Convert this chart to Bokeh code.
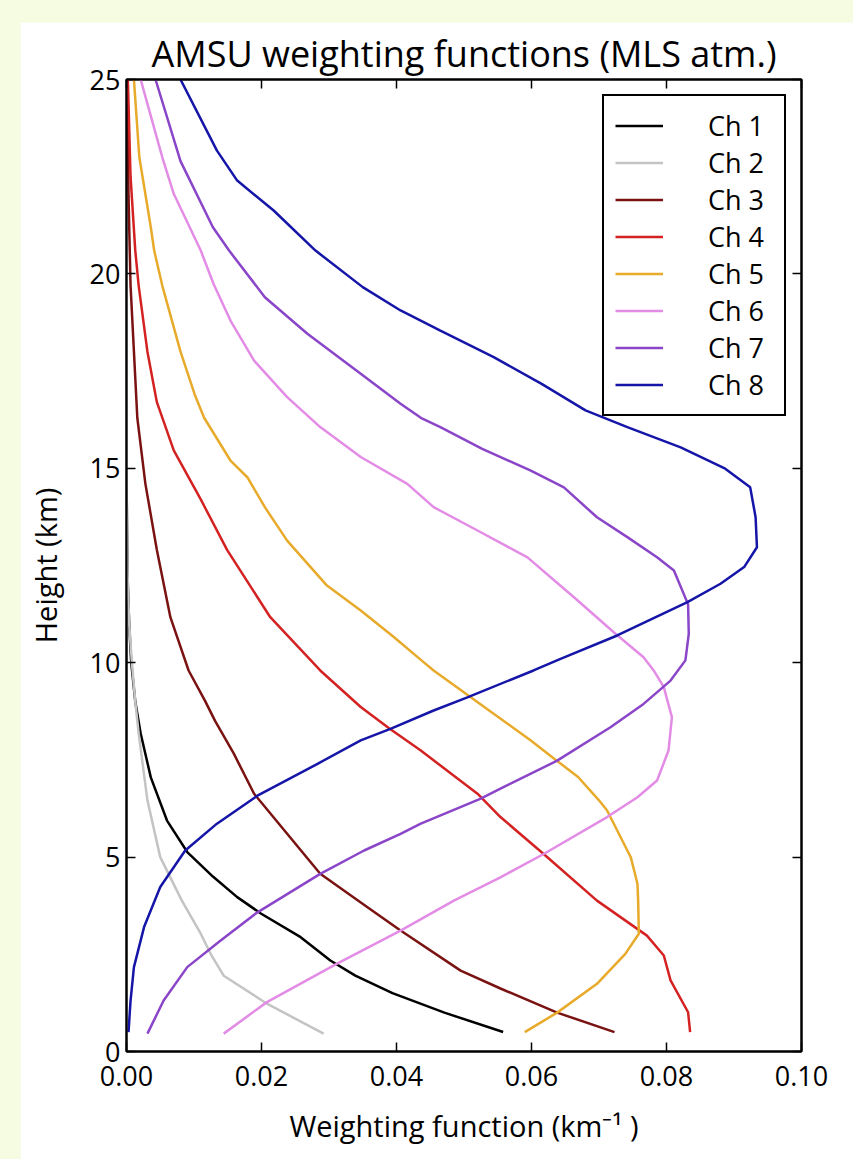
from bokeh.plotting import figure
from bokeh.models import (LinearAxis, FixedTicker, PrintfTickFormatter, Spacer,
                          Legend, LegendItem, Range1d)
from bokeh.layouts import column, row
from bokeh.embed import file_html
from bokeh.resources import INLINE

# ---------------- data ----------------
# Each channel: heights (km) and weighting-function values (1/km)
h1 = [0.5, 1.0, 1.5, 1.95, 2.34, 2.94, 3.55, 3.97, 4.5, 5.13, 5.94, 7.05, 8.18,
      9.0, 10.0, 11.0, 12.0, 13.0, 15.0, 25.0]
w1 = [0.0558, 0.0471, 0.0394, 0.0339, 0.0302, 0.0258, 0.0199, 0.0164, 0.0128,
      0.0090, 0.0060, 0.0036, 0.0021, 0.0013, 0.0007, 0.0004, 0.0002, 0.0001,
      0.0, 0.0]

h2 = [0.46, 1.23, 1.95, 2.5, 3.03, 3.88, 5.0, 6.46, 8.18, 9.0, 10.0, 11.0, 12.0,
      14.0, 25.0]
w2 = [0.0292, 0.0208, 0.0144, 0.0125, 0.0110, 0.0082, 0.0050, 0.0031, 0.0018,
      0.0013, 0.0008, 0.0004, 0.0002, 0.0, 0.0]

h3 = [0.5, 1.0, 1.62, 2.08, 3.11, 3.71, 4.57, 5.6, 6.63, 7.66, 8.51, 9.03, 9.8,
      11.17, 12.9, 14.6, 16.3, 18.0, 19.7, 22.0, 25.0]
w3 = [0.0723, 0.0638, 0.0554, 0.0495, 0.0406, 0.0357, 0.0287, 0.0238, 0.0189,
      0.0159, 0.0131, 0.0116, 0.0092, 0.0065, 0.0045, 0.0028, 0.0016, 0.0011,
      0.0006, 0.0003, 0.0001]

h4 = [0.5, 1.01, 1.83, 2.47, 2.98, 3.88, 5.08, 6.03, 6.63, 7.74, 8.3, 8.86,
      9.8, 11.17, 12.9, 14.2, 15.46, 16.7, 18.0, 19.7, 20.6, 22.5, 25.0]
w4 = [0.0835, 0.0832, 0.0806, 0.0796, 0.0771, 0.0697, 0.0618, 0.0554, 0.0520,
      0.0436, 0.0390, 0.0347, 0.0287, 0.0213, 0.0149, 0.0110, 0.0070, 0.0045,
      0.0031, 0.0018, 0.0013, 0.0006, 0.0002]

h5 = [0.5, 1.0, 1.74, 2.51, 3.03, 3.88, 4.31, 4.66, 5.0, 5.17, 6.2, 6.46, 7.06,
      7.5, 8.0, 9.11, 9.8, 10.06, 10.66, 11.34, 12.0, 13.14, 14.0, 14.77, 15.2,
      16.3, 16.9, 18.0, 19.7, 20.6, 21.2, 23.0, 25.0]
w5 = [0.0590, 0.0638, 0.0697, 0.0739, 0.0759, 0.0758, 0.0757, 0.0752, 0.0747,
      0.0742, 0.0712, 0.0700, 0.0669, 0.0636, 0.0599, 0.0510, 0.0455, 0.0437,
      0.0396, 0.0347, 0.0296, 0.0238, 0.0205, 0.0179, 0.0154, 0.0115, 0.0101,
      0.0080, 0.0053, 0.0041, 0.0036, 0.0019, 0.0011]

h6 = [0.46, 1.27, 2.26, 3.11, 3.88, 4.48, 5.08, 6.03, 6.54, 6.97, 7.74, 8.6,
      9.37, 9.8, 10.14, 10.75, 11.65, 12.71, 13.4, 14.0, 14.6, 15.29, 16.06,
      16.83, 17.77, 18.8, 19.74, 20.6, 22.06, 23.0, 24.0, 25.0]
w6 = [0.0144, 0.0208, 0.0312, 0.0406, 0.0485, 0.0554, 0.0618, 0.0712, 0.0757,
      0.0786, 0.0803, 0.0808, 0.0796, 0.0781, 0.0766, 0.0724, 0.0665, 0.0594,
      0.0520, 0.0455, 0.0416, 0.0347, 0.0287, 0.0238, 0.0189, 0.0154, 0.0129,
      0.0110, 0.0070, 0.0053, 0.0037, 0.0021]

h7 = [0.46, 1.31, 2.17, 2.85, 3.58, 4.57, 5.17, 5.6, 5.86, 6.5, 6.76, 7.48,
      8.34, 8.94, 9.54, 10.06, 10.74, 11.5, 12.37, 12.71, 13.23, 13.74, 14.51,
      14.94, 15.5, 16.06, 16.3, 16.66, 17.43, 18.46, 19.4, 20.6, 21.2, 22.9,
      25.0]
w7 = [0.0031, 0.0055, 0.0090, 0.0139, 0.0194, 0.0287, 0.0352, 0.0406, 0.0436,
      0.0524, 0.0554, 0.0638, 0.0717, 0.0766, 0.0806, 0.0828, 0.0833, 0.0832,
      0.0811, 0.0786, 0.0742, 0.0697, 0.0648, 0.0599, 0.0527, 0.0465, 0.0436,
      0.0406, 0.0347, 0.0268, 0.0205, 0.0152, 0.0128, 0.0080, 0.0043]

h8 = [0.5, 1.31, 2.17, 3.2, 4.23, 5.17, 5.86, 6.58, 7.4, 8.0, 8.3, 8.77, 9.11,
      9.8, 10.1, 10.7, 11.56, 12.03, 12.46, 12.97, 13.74, 14.51, 14.99, 15.54,
      16.06, 16.49, 17.17, 17.86, 18.54, 19.06, 19.66, 20.6, 21.63, 22.4, 23.17,
      25.0]
w8 = [0.0003, 0.0006, 0.0011, 0.0026, 0.0050, 0.0087, 0.0134, 0.0194, 0.0283,
      0.0347, 0.0391, 0.0455, 0.0505, 0.0603, 0.0643, 0.0727, 0.0831, 0.0880,
      0.0915, 0.0934, 0.0932, 0.0924, 0.0887, 0.0821, 0.0742, 0.0680, 0.0615,
      0.0544, 0.0465, 0.0406, 0.0350, 0.0280, 0.0218, 0.0164, 0.0134, 0.0080]

labels = ["Ch 1", "Ch 2", "Ch 3", "Ch 4", "Ch 5", "Ch 6", "Ch 7", "Ch 8"]
colors = ["#000000", "#c4c4c4", "#7a1212", "#d42222", "#e8aa2a", "#e38ce6",
          "#8a45c8", "#1515a8"]
series = [(w1, h1), (w2, h2), (w3, h3), (w4, h4), (w5, h5), (w6, h6),
          (w7, h7), (w8, h8)]

x_ticks = [0.0, 0.02, 0.04, 0.06, 0.08, 0.10]
y_ticks = [0, 5, 10, 15, 20, 25]

title_text = "AMSU weighting functions (MLS atm.)"
x_label = "Weighting function (km\u207b\u00b9 )"
y_label = "Height (km)"

# ---------------- styling ----------------
FONT = "Open Sans"
BG = "#f6fce2"

p = figure(width=833, height=1137, output_backend="svg", toolbar_location=None,
           x_range=Range1d(0, 0.10), y_range=Range1d(0, 25),
           min_border_left=106, min_border_right=52, min_border_top=57,
           min_border_bottom=108, title=title_text)
p.background_fill_color = "white"
p.border_fill_color = "white"
p.outline_line_color = "black"
p.outline_line_width = 2
p.grid.visible = False

p.title.text_font = FONT
p.title.text_font_size = "36px"
p.title.text_font_style = "normal"
p.title.align = "center"
p.title.text_color = "black"
p.title.standoff = 3

def style_axis(ax, show_labels):
    ax.axis_line_color = "black"
    ax.axis_line_width = 2
    ax.major_tick_in = 9
    ax.major_tick_out = 0
    ax.major_tick_line_width = 1.5
    ax.major_tick_line_color = "black"
    ax.minor_tick_line_color = None
    ax.major_label_text_font = FONT
    ax.major_label_text_font_size = "27px"
    ax.major_label_text_color = "black"
    ax.axis_label_text_font = FONT
    ax.axis_label_text_font_size = "29px"
    ax.axis_label_text_font_style = "normal"
    ax.axis_label_text_color = "black"
    if not show_labels:
        ax.major_label_text_font_size = "0px"
        ax.major_label_text_alpha = 0
        ax.major_label_standoff = 0
        ax.axis_label_standoff = 0

xaxis = p.xaxis[0]
yaxis = p.yaxis[0]
xaxis.ticker = FixedTicker(ticks=x_ticks)
xaxis.formatter = PrintfTickFormatter(format="%.2f")
yaxis.ticker = FixedTicker(ticks=y_ticks)
style_axis(xaxis, True)
style_axis(yaxis, True)
xaxis.axis_label = x_label
yaxis.axis_label = y_label
xaxis.major_label_standoff = 14
yaxis.major_label_standoff = 6
xaxis.axis_label_standoff = 17
yaxis.axis_label_standoff = 22

top_axis = LinearAxis(ticker=FixedTicker(ticks=x_ticks))
right_axis = LinearAxis(ticker=FixedTicker(ticks=y_ticks))
style_axis(top_axis, False)
style_axis(right_axis, False)
p.add_layout(top_axis, "above")
p.add_layout(right_axis, "right")

items = []
for lab, col, (ws, hs) in zip(labels, colors, series):
    r = p.line(x=ws, y=hs, line_color=col, line_width=2.5)
    items.append(LegendItem(label=lab, renderers=[r]))

legend = Legend(items=items, location="top_right", margin=15)
legend.padding = 11
legend.spacing = 0
legend.label_height = 37
legend.glyph_height = 37
legend.glyph_width = 48
legend.label_standoff = 45
legend.label_width = 65
legend.label_text_font = FONT
legend.label_text_font_size = "27px"
legend.label_text_color = "black"
legend.border_line_color = "black"
legend.border_line_alpha = 1.0
legend.border_line_width = 2
legend.background_fill_color = "white"
legend.background_fill_alpha = 1.0
p.add_layout(legend, "center")

root = column(Spacer(height=22, width=853),
              row(Spacer(width=20, height=1137), p),
              styles={"background-color": BG, "position": "absolute",
                      "left": "0px", "top": "0px"})

open("out.html", "w").write(file_html(root, INLINE))
